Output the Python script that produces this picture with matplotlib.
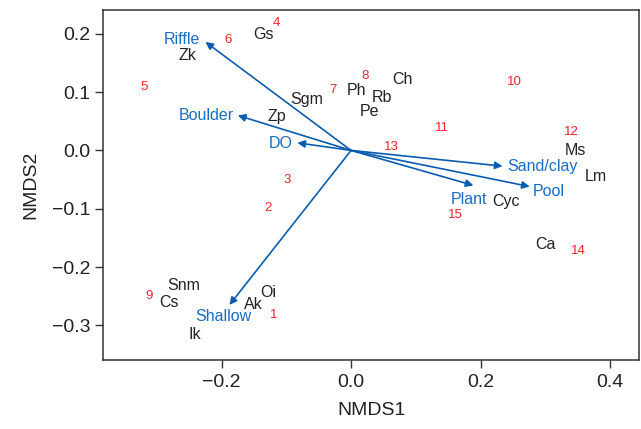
import matplotlib
matplotlib.use("Agg")
import matplotlib.pyplot as plt

plt.rcParams['font.family'] = ['Liberation Sans', 'DejaVu Sans']

# Environmental vectors (arrow tips) and label positions
env_names = ["Riffle", "Boulder", "DO", "Sand/clay", "Pool", "Plant", "Shallow"]
env_x = [-0.225, -0.175, -0.083, 0.234, 0.276, 0.189, -0.188]
env_y = [0.186, 0.060, 0.013, -0.027, -0.062, -0.060, -0.265]
env_lx = [-0.261, -0.224, -0.108, 0.295, 0.306, 0.182, -0.198]
env_ly = [0.191, 0.060, 0.012, -0.027, -0.070, -0.085, -0.284]

# Species scores
sp_names = ["Gs", "Zk", "Sgm", "Zp", "Ph", "Rb", "Pe", "Ch", "Ms", "Lm",
            "Cyc", "Ca", "Snm", "Cs", "Oi", "Ak", "Ik"]
sp_x = [-0.136, -0.253, -0.069, -0.114, 0.009, 0.048, 0.028, 0.080, 0.347, 0.378,
        0.239, 0.301, -0.258, -0.281, -0.128, -0.151, -0.241]
sp_y = [0.198, 0.162, 0.087, 0.058, 0.103, 0.091, 0.067, 0.121, 0.000, -0.044,
        -0.087, -0.161, -0.231, -0.260, -0.244, -0.265, -0.315]

# Site scores
site_names = ["1", "2", "3", "4", "5", "6", "7", "8", "9", "10", "11", "12", "13", "14", "15"]
site_x = [-0.120, -0.128, -0.099, -0.116, -0.320, -0.190, -0.028, 0.022, -0.312,
          0.253, 0.141, 0.340, 0.063, 0.351, 0.161]
site_y = [-0.282, -0.099, -0.051, 0.219, 0.108, 0.190, 0.103, 0.128, -0.250,
          0.118, 0.038, 0.031, 0.005, -0.173, -0.111]

fig = plt.figure(figsize=(6.41, 4.29), dpi=100)
ax = fig.add_axes([0.161, 0.16, 0.836, 0.817])

arrow_col = "#0a5cb0"
label_blue = "#1a6cc0"
red = "#e8262c"
dark = "#222222"

for x, y in zip(env_x, env_y):
    ax.annotate("", xy=(x, y), xytext=(0, 0),
                arrowprops=dict(arrowstyle="-|>", color=arrow_col, lw=1.2,
                                mutation_scale=11, shrinkA=0, shrinkB=0))
for n, x, y in zip(env_names, env_lx, env_ly):
    ax.text(x, y, n, color=label_blue, fontsize=11.5, ha="center", va="center")
for n, x, y in zip(sp_names, sp_x, sp_y):
    ax.text(x, y, n, color=dark, fontsize=11.5, ha="center", va="center")
for n, x, y in zip(site_names, site_x, site_y):
    ax.text(x, y, n, color=red, fontsize=9.5, ha="center", va="center")

ax.set_xlim(-0.383, 0.445)
ax.set_ylim(-0.360, 0.241)
ax.set_xticks([-0.2, 0.0, 0.2, 0.4])
ax.set_yticks([-0.3, -0.2, -0.1, 0.0, 0.1, 0.2])
ax.set_xticklabels(["\u22120.2", "0.0", "0.2", "0.4"])
ax.set_yticklabels(["\u22120.3", "\u22120.2", "\u22120.1", "0.0", "0.1", "0.2"])
ax.tick_params(direction="out", length=6, width=1, labelsize=14, colors="#333333",
               labelcolor="#222222", pad=4)
ax.tick_params(axis="y", pad=3)
for s in ax.spines.values():
    s.set_color("#333333")
    s.set_linewidth(1.1)
ax.set_xlabel("NMDS1", fontsize=14, color="#222222", labelpad=8)
ax.set_ylabel("NMDS2", fontsize=14, color="#222222", labelpad=9)

fig.savefig("out.png", dpi=100)
